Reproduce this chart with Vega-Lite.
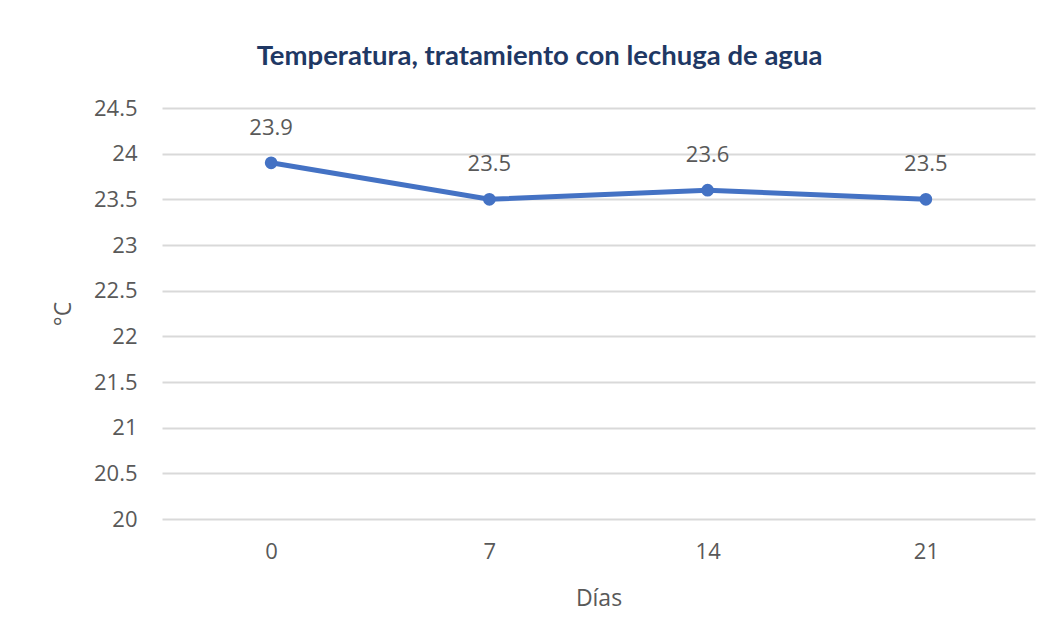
{
  "$schema": "https://vega.github.io/schema/vega-lite/v6.json",
  "width": 873,
  "height": 411,
  "autosize": {"type": "none"},
  "padding": {"left": 162, "top": 108, "right": 19, "bottom": 124},
  "background": "white",
  "config": {"view": {"stroke": null}, "font": "Open Sans"},
  "title": {
    "text": "Temperatura, tratamiento  con lechuga de agua",
    "font": "Lato",
    "fontSize": 27.5,
    "fontWeight": "bold",
    "color": "#1F3864",
    "anchor": "middle",
    "dx": -59,
    "offset": 27
  },
  "data": {"values": [
    {"dia": "0", "temp": 23.9},
    {"dia": "7", "temp": 23.5},
    {"dia": "14", "temp": 23.6},
    {"dia": "21", "temp": 23.5}
  ]},
  "encoding": {
    "x": {
      "field": "dia", "type": "ordinal", "sort": null,
      "scale": {"paddingInner": 0, "paddingOuter": 0},
      "axis": {"title": "Días", "labelAngle": 0, "labelFont": "Open Sans", "labelFontSize": 22, "labelColor": "#595959", "labelPadding": 22, "ticks": false, "domain": false, "titleFont": "Open Sans", "titleFontSize": 23, "titleFontWeight": "normal", "titleColor": "#595959", "titlePadding": 25, "grid": false}
    },
    "y": {
      "field": "temp", "type": "quantitative",
      "scale": {"domain": [20, 24.5], "zero": false, "nice": false},
      "axis": {"title": "°C", "format": "~g", "values": [20, 20.5, 21, 21.5, 22, 22.5, 23, 23.5, 24, 24.5], "labelFont": "Open Sans", "labelFontSize": 22, "labelColor": "#595959", "labelPadding": 25, "ticks": false, "domain": false, "gridColor": "#D9D9D9", "gridWidth": 2, "titleFont": "Open Sans", "titleFontSize": 23, "titleFontWeight": "normal", "titleColor": "#595959", "titlePadding": 18}
    }
  },
  "layer": [
    {"mark": {"type": "line", "color": "#4472C4", "strokeWidth": 5}},
    {"mark": {"type": "point", "filled": true, "color": "#4472C4", "size": 160, "opacity": 1}},
    {"mark": {"type": "text", "dy": -35, "font": "Open Sans", "fontSize": 22, "color": "#595959"}, "encoding": {"text": {"field": "temp", "type": "quantitative", "format": ".1f"}}}
  ]
}
